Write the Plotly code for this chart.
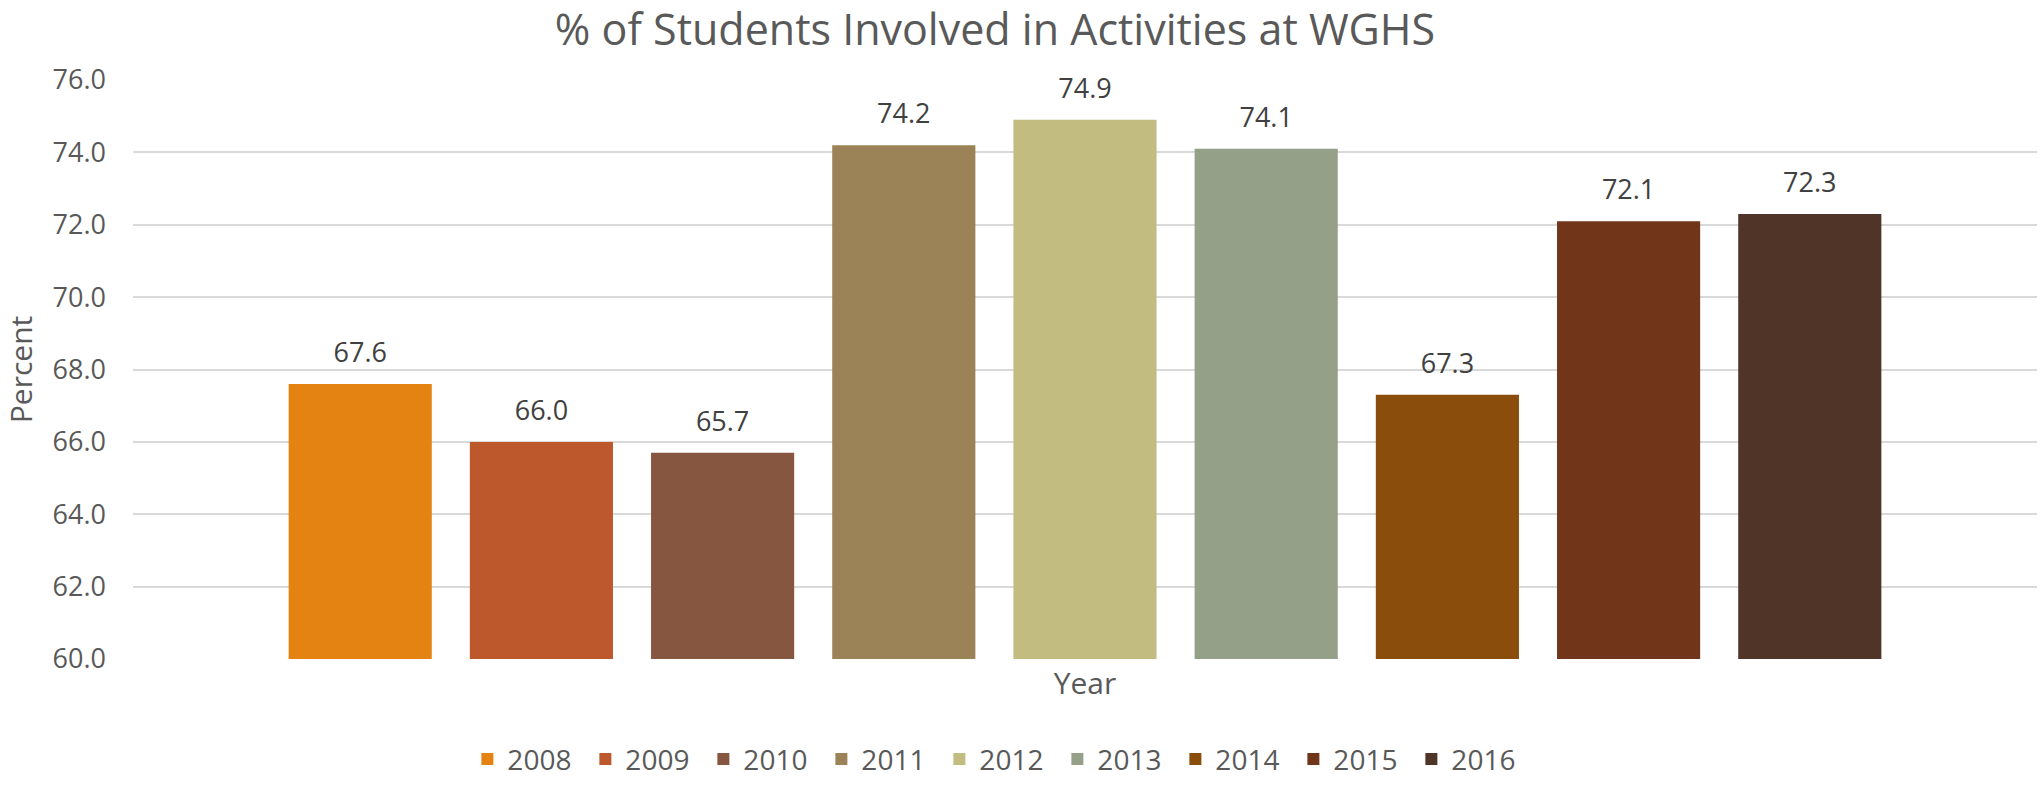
import plotly.graph_objects as go

# Share of students involved in activities, one bar per school year
years = ["2008", "2009", "2010", "2011", "2012", "2013", "2014", "2015", "2016"]
percent = [67.6, 66.0, 65.7, 74.2, 74.9, 74.1, 67.3, 72.1, 72.3]
colors = ["#E48312", "#BD582C", "#865640", "#9B8357", "#C2BC80",
          "#94A088", "#8A4D0C", "#71351A", "#503427"]
y_ticks = [60, 62, 64, 66, 68, 70, 72, 74, 76]

FONT = "Open Sans"
LABEL_GAP = 0.3  # value-axis space kept between a bar top and its label

fig = go.Figure()
for year, val, col in zip(years, percent, colors):
    fig.add_trace(go.Bar(
        x=[""], y=[val], name=year,
        marker=dict(color=col, line=dict(width=0)),
        offsetgroup=year, hovertemplate=f"{year}: %{{y:.1f}}<extra></extra>",
    ))
    # transparent spacer carrying the value label just above the bar
    fig.add_trace(go.Bar(
        x=[""], y=[LABEL_GAP], base=[val], offsetgroup=year,
        marker=dict(color="rgba(0,0,0,0)", line=dict(width=0)),
        showlegend=False, hoverinfo="skip",
        text=[f"{val:.1f}"], textposition="outside", cliponaxis=False,
        textfont=dict(family=FONT, size=27, color="#404040"),
    ))

fig.update_layout(
    width=2041, height=785, autosize=False,
    margin=dict(l=133, r=4, t=80, b=126, autoexpand=False),
    paper_bgcolor="white", plot_bgcolor="white",
    barmode="group", bargap=0.1435, bargroupgap=0.21,
    title=dict(
        text="% of Students Involved in Activities at WGHS",
        x=995 / 2041, xanchor="center", y=1 - 30 / 785, yanchor="middle",
        font=dict(family=FONT, size=43, color="#595959"),
    ),
    font=dict(family=FONT, color="#595959"),
    showlegend=True,
    legend=dict(
        orientation="h", x=0.4545, xanchor="center", y=-0.2165, yanchor="bottom",
        font=dict(family=FONT, size=28, color="#595959"),
        traceorder="normal", entrywidth=73, entrywidthmode="pixels",
    ),
)

fig.update_xaxes(
    showticklabels=False, showgrid=False, zeroline=False, showline=False,
    ticks="",
    title=dict(text="Year", standoff=13, font=dict(family=FONT, size=30, color="#595959")),
)

fig.update_yaxes(
    range=[60, 76], tickvals=y_ticks, tickformat=".1f",
    showgrid=True, gridcolor="#D9D9D9", gridwidth=1.5,
    zeroline=False, showline=False, ticks="",
    ticklabelstandoff=26,
    tickfont=dict(family=FONT, size=27, color="#595959"),
    title=dict(text="Percent", standoff=14, font=dict(family=FONT, size=30, color="#595959")),
)

fig.write_html("out.html")
